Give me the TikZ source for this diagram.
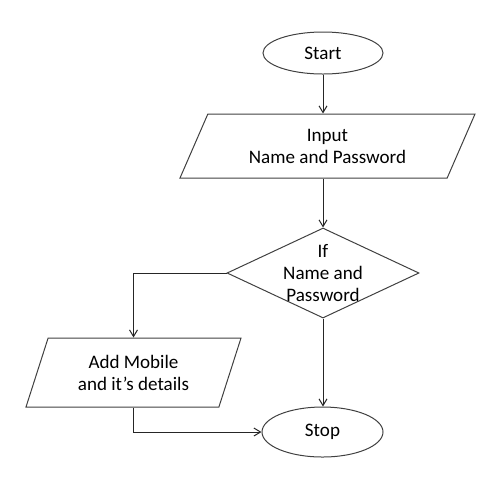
\documentclass[tikz,border=0pt]{standalone}
\usepackage{fontspec}
\setmainfont{Carlito}
\usetikzlibrary{shapes.geometric}
\usetikzlibrary{arrows.meta}

\begin{document}
\begin{tikzpicture}[x=0.75pt, y=-0.75pt, line width=0.75pt, every node/.style={font=\fontsize{14.3}{16.5}\selectfont, align=center}]
		\tikzstyle{terminal}=[draw=black!75, shape=ellipse, inner sep=0pt]
		\tikzstyle{io}=[draw=black!75, shape=trapezium, trapezium stretches body, inner sep=0pt]
		\tikzstyle{decision}=[draw=black!75, shape=diamond, inner sep=0pt, minimum width=144pt, minimum height=67.5pt]
		\tikzstyle{flow}=[draw=black!85, -{Straight Barb[length=5pt,width=6pt]}]

		\useasboundingbox (0,0) rectangle (488,476);

    % Terminals
		\node[terminal, minimum width=90pt, minimum height=31.5pt](start) at (323,53){Start};
		\node[terminal, minimum width=90.75pt, minimum height=37.5pt](stop) at (322.5,432){Stop};

    % Input / output
		\node[io, trapezium left angle=51, trapezium right angle=129, minimum width=221.25pt, minimum height=48pt](input) at (327.5,146){Input\\Name and Password};
		\node[io, trapezium left angle=58, trapezium right angle=122, minimum width=161.25pt, minimum height=51.75pt](add) at (133.5,372.5){Add Mobile\\and it’s details};

    % Decision
		\node[decision, label={center:If\\Name and\\Password}](check) at (323,273){};

    % Connections
		\draw[flow] (start.south) -- (start.south |- input.north);
		\draw[flow] (check.north |- input.south) -- (check.north);
		\draw[flow] (check.west) -| (add.north);
		\draw[flow] (check.south) -- (check.south |- stop.north);
		\draw[flow] (add.south) |- (stop.west);

  \end{tikzpicture}
\end{document}
